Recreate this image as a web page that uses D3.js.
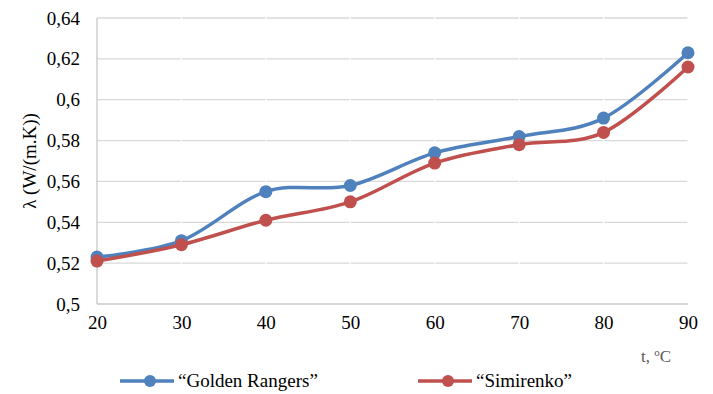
<!DOCTYPE html>
<html><head><meta charset="utf-8">
<script src="https://cdn.jsdelivr.net/npm/d3@7/dist/d3.min.js"></script>
</head><body style="margin:0">
<svg id="c" width="713" height="394"></svg>
<script>
const temps = [20, 30, 40, 50, 60, 70, 80, 90];
const goldenRangers = [0.523, 0.531, 0.555, 0.558, 0.574, 0.582, 0.591, 0.623];
const simirenko = [0.521, 0.529, 0.541, 0.550, 0.569, 0.578, 0.584, 0.616];
const yTicks = [0.5, 0.52, 0.54, 0.56, 0.58, 0.6, 0.62, 0.64];
const seriesNames = ["\u201CGolden Rangers\u201D", "\u201CSimirenko\u201D"];
const colors = ["#4F81BD", "#C0504D"];

const svg = d3.select("#c").attr("font-family", "Liberation Serif");
const L = 97, R = 688, T = 18, B = 304;
const x = d3.scaleLinear().domain([20, 90]).range([L, R]);
const y = d3.scaleLinear().domain([0.5, 0.64]).range([B, T]);

svg.append("rect").attr("width", 713).attr("height", 394).attr("fill", "#fff");

// gridlines
svg.append("g").selectAll("line").data(yTicks.slice(1)).join("line")
  .attr("x1", L).attr("x2", R).attr("y1", d => y(d)).attr("y2", d => y(d))
  .attr("stroke", "#d9d9d9").attr("stroke-width", 1.3);
// white tick gaps
svg.append("g").selectAll("line").data(temps.slice(1)).join("line")
  .attr("x1", d => x(d)).attr("x2", d => x(d)).attr("y1", T - 2).attr("y2", B - 2)
  .attr("stroke", "#fff").attr("stroke-width", 1.2);
// axes lines
svg.append("line").attr("x1", L).attr("x2", L).attr("y1", T).attr("y2", B)
  .attr("stroke", "#c8c8c8").attr("stroke-width", 1.3);
svg.append("line").attr("x1", L).attr("x2", R).attr("y1", B).attr("y2", B)
  .attr("stroke", "#c8c8c8").attr("stroke-width", 1.3);

// y tick labels
const yAxis = d3.axisLeft(y).tickValues(yTicks).tickSize(0).tickPadding(17)
  .tickFormat(d => String(+d.toFixed(2)).replace(".", ","));
const gy = svg.append("g").attr("transform", `translate(${L},0)`).call(yAxis);
gy.select(".domain").remove();
gy.attr("font-family", "Liberation Serif").attr("font-size", 19);
gy.selectAll("text").attr("fill", "#000");

// x tick labels
const xAxis = d3.axisBottom(x).tickValues(temps).tickSize(0).tickPadding(12).tickFormat(d3.format("d"));
const gx = svg.append("g").attr("transform", `translate(0,${B})`).call(xAxis);
gx.select(".domain").remove();
gx.attr("font-family", "Liberation Serif").attr("font-size", 19);
gx.selectAll("text").attr("fill", "#000");

// y axis title
svg.append("text").attr("transform", `translate(36,${(T + B) / 2}) rotate(-90)`)
  .attr("text-anchor", "middle").attr("font-family", "Liberation Serif").attr("font-size", 19)
  .attr("fill", "#000").text("\u03BB (W/(m.K))");

// x axis title
const xt = svg.append("text").attr("x", 641).attr("y", 362)
  .attr("font-family", "Liberation Serif").attr("font-size", 17).attr("fill", "#595959");
xt.append("tspan").text("t, ");
xt.append("tspan").attr("font-size", 11).attr("dy", -6).text("o");
xt.append("tspan").attr("dy", 6).text("C");

// series
const line = d3.line().x((d, i) => x(temps[i])).y(d => y(d)).curve(d3.curveCardinal.tension(0));
[goldenRangers, simirenko].forEach((s, k) => {
  svg.append("path").attr("d", line(s)).attr("fill", "none")
    .attr("stroke", colors[k]).attr("stroke-width", 3.5).attr("stroke-linecap", "round");
  svg.append("g").selectAll("circle").data(s).join("circle")
    .attr("cx", (d, i) => x(temps[i])).attr("cy", d => y(d)).attr("r", 6.5)
    .attr("fill", colors[k]);
});

// legend
const legX = [120, 418];
seriesNames.forEach((n, k) => {
  const g = svg.append("g").attr("transform", `translate(${legX[k]},381)`);
  g.append("line").attr("x1", 0).attr("x2", 54).attr("stroke", colors[k]).attr("stroke-width", 3.5);
  g.append("circle").attr("cx", 30).attr("r", 6).attr("fill", colors[k]);
  g.append("text").attr("x", 58).attr("y", 6).attr("font-family", "Liberation Serif").attr("font-size", 19)
    .attr("fill", "#000").text(n);
});
</script>
</body></html>
